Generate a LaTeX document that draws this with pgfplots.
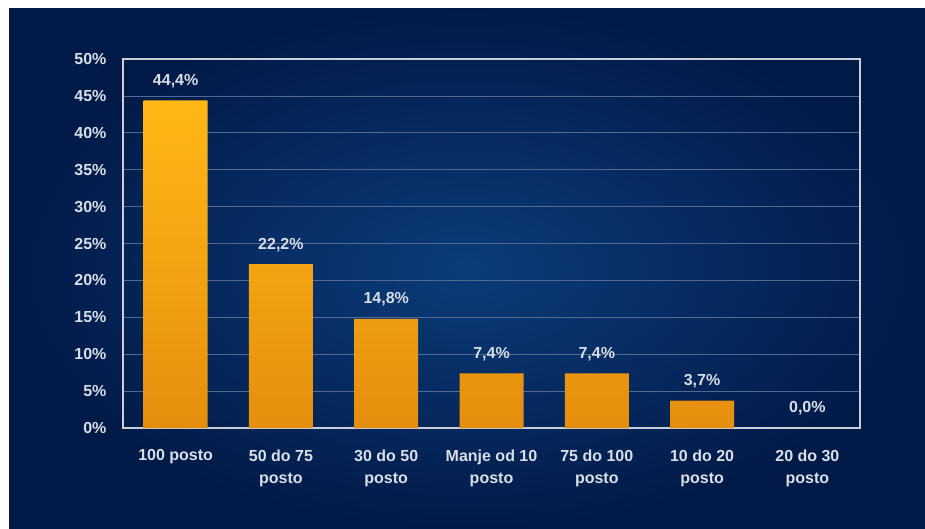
\documentclass[border=0pt]{standalone}
\usepackage{fontspec}
\setmainfont{Liberation Sans}
\usepackage{pgfplots}
\pgfplotsset{compat=1.18}
\definecolor{BgInner}{HTML}{0B3C7A}
\definecolor{BgOuter}{HTML}{021A48}
\definecolor{GridCol}{HTML}{4F6A94}
\definecolor{FrameCol}{HTML}{C9CED8}
\definecolor{LabelCol}{HTML}{D8DDE6}
\definecolor{BarTop}{HTML}{FFB814}
\definecolor{BarBot}{HTML}{E58E0E}

\begin{document}
\begin{tikzpicture}[x=1pt,y=1pt]
\fill[white] (0,0) rectangle (925,528);
\shade[inner color=BgInner, outer color=BgOuter] (9,0) rectangle (925,519);
\begin{axis}[
    at={(123pt,100pt)}, anchor=south west,
    scale only axis,
    width=737pt, height=369pt,
    xmin=-0.5, xmax=6.5,
    ymin=0, ymax=50,
    xtick={0,...,6},
    xticklabels={100 posto, 50 do 75\\posto, 30 do 50\\posto, Manje od 10\\posto, 75 do 100\\posto, 10 do 20\\posto, 20 do 30\\posto},
    ytick={0,5,...,50},
    yticklabel={\pgfmathprintnumber{\tick}\%},
    /pgf/number format/assume math mode=true,
    major tick length=0pt,
    ymajorgrids,
    grid style={GridCol, line width=0.8pt},
    axis line style={FrameCol, line width=1.6pt},
    tick label style={font=\fontsize{16}{22}\selectfont\bfseries, text=LabelCol},
    xticklabel style={align=center, yshift=-18pt},
    yticklabel style={xshift=-13pt},
    nodes near coords={\pgfplotspointmeta},
    every node near coord/.append style={font=\fontsize{16}{20}\selectfont\bfseries, text=LabelCol, yshift=9pt},
    point meta=explicit symbolic,
]
\addplot[ybar, bar width=64pt, draw=none, top color=BarTop, bottom color=BarBot] coordinates {
    (0,44.4) [44,4\%]
    (1,22.2) [22,2\%]
    (2,14.8) [14,8\%]
    (3,7.4) [7,4\%]
    (4,7.4) [7,4\%]
    (5,3.7) [3,7\%]
};
\addplot[only marks, mark=none] coordinates {
    (6,0) [0,0\%]
};
\end{axis}
\pgfresetboundingbox
\useasboundingbox (0,0) rectangle (925,528);
\end{tikzpicture}
\end{document}
